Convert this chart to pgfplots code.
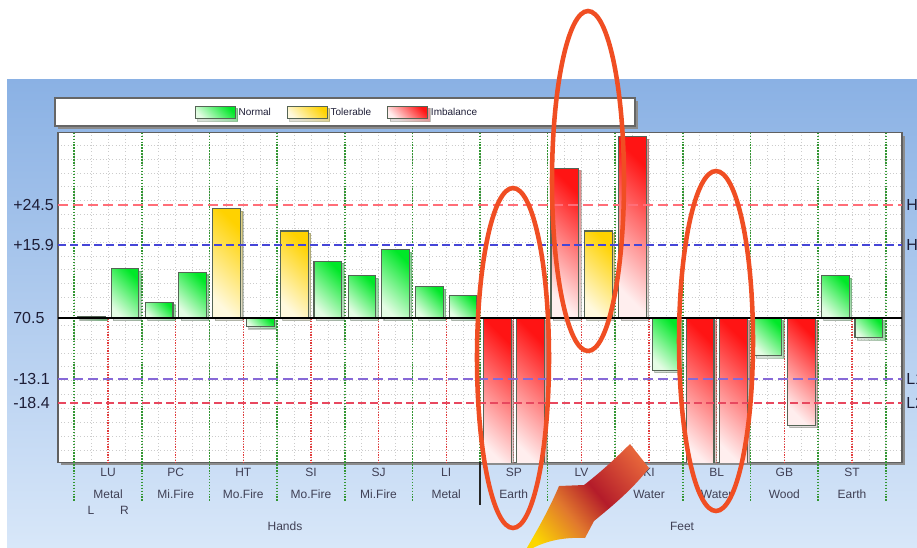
\documentclass[border=0pt]{standalone}
\usepackage{fontspec}
\setmainfont{Liberation Sans}
\usepackage{pgfplots}
\pgfplotsset{compat=1.18}
\usetikzlibrary{shadows}

\definecolor{nGreen}{RGB}{0,232,40}
\definecolor{nGreenL}{RGB}{228,252,228}
\definecolor{tYel}{RGB}{255,210,0}
\definecolor{tYelL}{RGB}{255,249,222}
\definecolor{iRed}{RGB}{255,20,20}
\definecolor{iRedL}{RGB}{255,238,238}
\definecolor{barEdge}{RGB}{85,100,85}
\definecolor{gridG}{RGB}{50,150,50}
\definecolor{gridR}{RGB}{225,60,60}
\definecolor{hiRed}{RGB}{255,110,120}
\definecolor{hiBlue}{RGB}{70,70,215}
\definecolor{loBlue}{RGB}{135,105,215}
\definecolor{loRed}{RGB}{232,72,95}
\definecolor{panelTop}{RGB}{138,177,228}
\definecolor{panelBot}{RGB}{216,231,249}
\definecolor{txt}{RGB}{30,30,55}
\definecolor{ringCol}{RGB}{240,78,35}
\definecolor{arrTail}{RGB}{230,100,58}
\definecolor{arrMid}{RGB}{180,28,42}
\definecolor{arrOr}{RGB}{225,120,45}
\definecolor{arrTip}{RGB}{252,215,0}

\pgfdeclarehorizontalshading{arrowshade}{100bp}{
  color(0bp)=(arrTip); color(22bp)=(arrTip); color(40bp)=(arrOr);
  color(55bp)=(arrMid); color(78bp)=(arrTail); color(100bp)=(arrTail)}

\pgfplotsset{
  legimg/.style={legend image code/.code={\draw[##1] (0pt,-4.75pt) rectangle (30pt,4.75pt);}},
  barbase/.style={ybar, bar width=0.41, bar shift=0pt, draw=barEdge, line width=0.8pt,
    drop shadow={shadow xshift=1.8pt, shadow yshift=-1.8pt, opacity=0.35}, legimg},
  nbar/.style={barbase, top color=nGreen, bottom color=nGreenL, shading angle=-45},
  tbar/.style={barbase, top color=tYel, bottom color=tYelL, shading angle=-45},
  ibar/.style={barbase, top color=iRed, bottom color=iRedL, shading angle=-45},
}

\begin{document}
\begin{tikzpicture}
% background panel, frames and shadows (pixel units)
\begin{scope}[x=0.75pt,y=-0.75pt]
  \fill[white] (0,0) rectangle (917,547);
  \shade[top color=panelTop, bottom color=panelBot] (7,79) rectangle (917,547);
  \fill[black!45] (58,101) rectangle (638,129);
  \draw[fill=white, draw=gray!80!black, line width=0.8pt] (55,98) rectangle (635,126);
  \fill[black!45] (61,136) rectangle (905,465);
\end{scope}

\begin{axis}[
  at={(43.5pt,-346.725pt)}, anchor=south west,
  scale only axis, width=633pt, height=247.2pt,
  xmin=-0.24, xmax=12.24, ymin=-31.2, ymax=40.2,
  axis background/.style={fill=white},
  axis line style={draw=gray!75!black, line width=1pt},
  clip mode=individual,
  xtick={0.5,1.5,...,11.5},
  xticklabels={{LU\\Metal},{PC\\Mi.Fire},{HT\\Mo.Fire},{SI\\Mo.Fire},{SJ\\Mi.Fire},{LI\\Metal},
               {SP\\Earth},{LV\\Wood},{KI\\Water},{BL\\Water},{GB\\Wood},{ST\\Earth}},
  ytick={-18.4,-13.1,0,15.9,24.5},
  yticklabels={-18.4,-13.1,70.5,+15.9,+24.5},
  minor xtick={-0.25,0,...,12.25},
  minor ytick={-28.5,-25.5,...,37.5},
  grid=minor,
  minor grid style={draw=gray!40, dotted, line width=0.5pt},
  major tick length=0pt, minor tick length=0pt,
  yticklabel style={anchor=west, inner sep=0pt, xshift=-33.75pt, font=\fontsize{12}{14}\selectfont, text=txt},
  xticklabel style={font=\fontsize{9}{16.5}\selectfont, align=center, text=txt!85, yshift=-1pt},
  legend columns=-1,
  legend style={at={(0.1623,1.0613)}, anchor=west, draw=none, fill=none, inner sep=0pt, outer sep=0pt,
    font=\fontsize{7.5}{9}\selectfont, text=txt,
    /tikz/every even column/.append style={column sep=10pt}},
]
\addlegendimage{nbar}\addlegendentry{Normal}
\addlegendimage{tbar}\addlegendentry{Tolerable}
\addlegendimage{ibar}\addlegendentry{Imbalance}

% category boundaries and centres
\pgfplotsinvokeforeach{0,...,12}{
  \draw[gridG, line width=1.2pt, dash pattern=on 1.1pt off 1.1pt] (axis cs:#1,40.2) -- ([yshift=-29.8pt]axis cs:#1,-31.2);
}
\pgfplotsinvokeforeach{0.5,1.5,...,11.5}{
  \draw[gridR, line width=0.9pt, dash pattern=on 1pt off 1pt] (axis cs:#1,0) -- (axis cs:#1,-31.2);
}
\draw[black!85, line width=1.5pt] (axis cs:6,-31.2) -- ([yshift=-32pt]axis cs:6,-31.2);

% bars, L at i+0.255 and R at i+0.75 (deviation from 70.5)
% Hands
\addplot[nbar, forget plot] coordinates {(0.255,0.3)};   % LU L
\addplot[nbar, forget plot] coordinates {(0.75,10.7)};   % LU R
\addplot[nbar, forget plot] coordinates {(1.255,3.4)};   % PC L
\addplot[nbar, forget plot] coordinates {(1.75,9.9)};    % PC R
\addplot[tbar, forget plot] coordinates {(2.255,23.7)};  % HT L
\addplot[nbar, forget plot] coordinates {(2.75,-1.8)};   % HT R
\addplot[tbar, forget plot] coordinates {(3.255,18.9)};  % SI L
\addplot[nbar, forget plot] coordinates {(3.75,12.4)};   % SI R
\addplot[nbar, forget plot] coordinates {(4.255,9.2)};   % SJ L
\addplot[nbar, forget plot] coordinates {(4.75,14.8)};   % SJ R
\addplot[nbar, forget plot] coordinates {(5.255,6.8)};   % LI L
\addplot[nbar, forget plot] coordinates {(5.75,5.0)};    % LI R
% Feet
\addplot[ibar, forget plot] coordinates {(6.255,-33)};   % SP L
\addplot[ibar, forget plot] coordinates {(6.75,-33)};    % SP R
\addplot[ibar, forget plot] coordinates {(7.255,32.5)};  % LV L
\addplot[tbar, forget plot] coordinates {(7.75,18.9)};   % LV R
\addplot[ibar, forget plot] coordinates {(8.255,39.3)};  % KI L
\addplot[nbar, forget plot] coordinates {(8.75,-11.3)};  % KI R
\addplot[ibar, forget plot] coordinates {(9.255,-33)};   % BL L
\addplot[ibar, forget plot] coordinates {(9.75,-33)};    % BL R
\addplot[nbar, forget plot] coordinates {(10.255,-8.1)}; % GB L
\addplot[ibar, forget plot] coordinates {(10.75,-23.2)}; % GB R
\addplot[nbar, forget plot] coordinates {(11.255,9.2)};  % ST L
\addplot[nbar, forget plot] coordinates {(11.75,-4.2)};  % ST R

% thresholds and baseline
\addplot[hiRed, line width=1.8pt, dash pattern=on 7.5pt off 3.75pt, forget plot] coordinates {(-0.24,24.5) (12.24,24.5)};
\addplot[hiBlue, line width=1.3pt, dash pattern=on 6pt off 3pt, forget plot] coordinates {(-0.24,15.9) (12.24,15.9)};
\addplot[loBlue, line width=1.5pt, dash pattern=on 7.5pt off 3.75pt, forget plot] coordinates {(-0.24,-13.1) (12.24,-13.1)};
\addplot[loRed, line width=1.3pt, dash pattern=on 6pt off 3pt, forget plot] coordinates {(-0.24,-18.4) (12.24,-18.4)};
\addplot[black, line width=1.5pt, forget plot] coordinates {(-0.24,0) (12.24,0)};

\node[anchor=west, inner sep=0pt, font=\fontsize{12}{14}\selectfont, text=txt] at ([xshift=3pt]axis cs:12.24,24.5) {H2};
\node[anchor=west, inner sep=0pt, font=\fontsize{12}{14}\selectfont, text=txt] at ([xshift=3pt]axis cs:12.24,15.9) {H1};
\node[anchor=west, inner sep=0pt, font=\fontsize{12}{14}\selectfont, text=txt] at ([xshift=3pt]axis cs:12.24,-13.1) {L1};
\node[anchor=west, inner sep=0pt, font=\fontsize{12}{14}\selectfont, text=txt] at ([xshift=3pt]axis cs:12.24,-18.4) {L2};
\end{axis}

% labels and annotations (pixel units)
\begin{scope}[x=0.75pt,y=-0.75pt]
  \begin{scope}[font=\fontsize{9}{11}\selectfont, text=txt!85]
    \node at (91,510.7) {L};
    \node at (124.5,510.7) {R};
    \node at (285,526) {Hands};
    \node at (682,526) {Feet};
  \end{scope}
  \draw[ringCol, line width=3.4pt] (513,358) ellipse [x radius=36, y radius=170];
  \draw[ringCol, line width=3.4pt] (588,181) ellipse [x radius=36, y radius=170];
  \draw[ringCol, line width=3.4pt] (716,341) ellipse [x radius=37, y radius=170];
  \shade[shading=arrowshade, shading angle=40]
    (630,444) .. controls (612,462) and (597,475) .. (584,485) -- (559,486)
    .. controls (548,512) and (536,532) .. (524,553)
    .. controls (543,541) and (562,537) .. (585,538) -- (594,521)
    .. controls (611,507) and (632,490) .. (649,468) -- cycle;
\end{scope}
\pgfresetboundingbox
\useasboundingbox (0,0) rectangle (687.75pt,-410.25pt);
\end{tikzpicture}
\end{document}
